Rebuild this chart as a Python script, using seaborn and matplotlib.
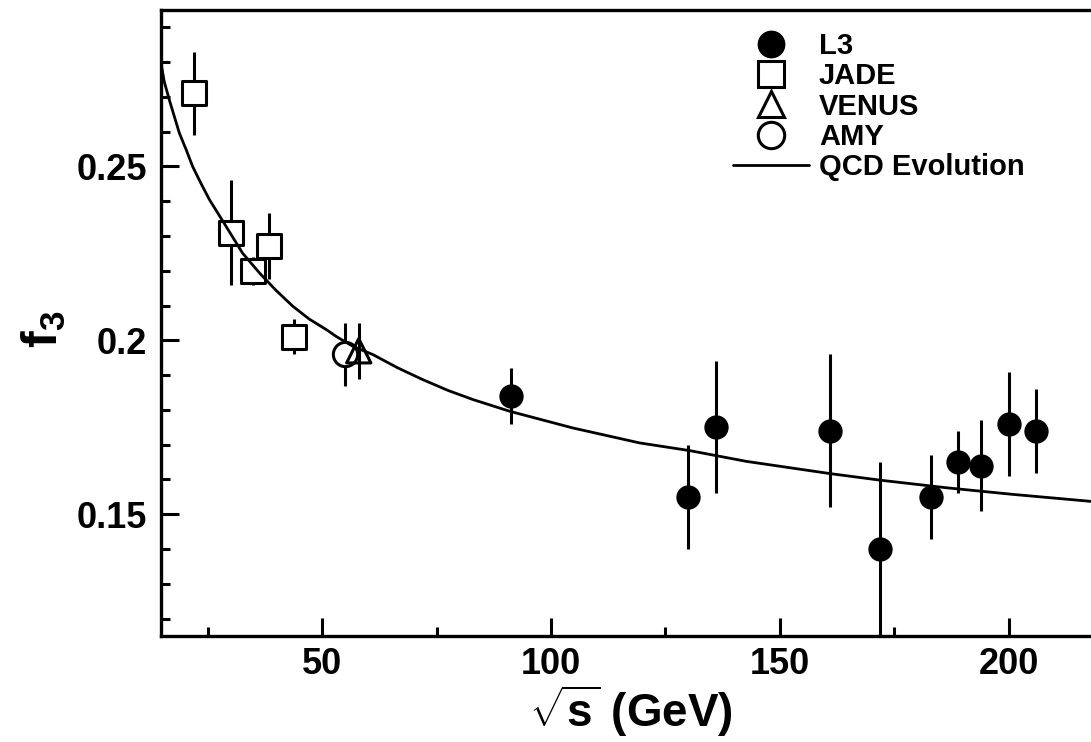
import matplotlib
matplotlib.use('Agg')
import matplotlib.pyplot as plt
import seaborn as sns
from matplotlib.lines import Line2D
from matplotlib.ticker import MultipleLocator

# Data
l3_x = [91.2, 130, 136, 161, 172, 183, 189, 194, 200, 206]
l3_y = [0.184, 0.155, 0.175, 0.174, 0.140, 0.155, 0.165, 0.164, 0.176, 0.174]
l3_err = [0.008, 0.015, 0.019, 0.022, 0.025, 0.012, 0.009, 0.013, 0.015, 0.012]

jade_x = [22, 30, 35, 38.3, 43.8]
jade_y = [0.271, 0.231, 0.220, 0.227, 0.201]
jade_err = [0.012, 0.015, 0.004, 0.0095, 0.005]

venus_x = [58]
venus_y = [0.197]
venus_err = [0.008]

amy_x = [55]
amy_y = [0.196]
amy_err = [0.009]

# QCD evolution curve
qcd_x = [14.8, 15.5, 16.6, 18.8, 20.3, 21.7, 23.5, 25.4, 27.2, 29.0, 32.6,
         36.3, 39.9, 43.6, 47.2, 50.9, 53.1, 56.7, 61.1, 66.5, 72.0, 77.5,
         82.9, 91.0, 104.8, 119.4, 130.3, 142.7, 160.9, 171.9, 186.5, 201.0,
         218.0]
qcd_y = [0.2797, 0.2744, 0.2692, 0.2596, 0.2548, 0.2500, 0.2452, 0.2404,
         0.2366, 0.2328, 0.2251, 0.2194, 0.2144, 0.2098, 0.2061, 0.2031,
         0.2011, 0.1983, 0.1959, 0.1921, 0.1887, 0.1856, 0.1830, 0.1796,
         0.1748, 0.1705, 0.1683, 0.1652, 0.1617, 0.1598, 0.1576, 0.1557,
         0.1537]

sns.set_style('ticks')
plt.rcParams['font.family'] = ['Liberation Sans', 'DejaVu Sans']
plt.rcParams['font.weight'] = 'bold'
plt.rcParams['mathtext.fontset'] = 'custom'
plt.rcParams['mathtext.bf'] = 'Liberation Sans:bold'
plt.rcParams['mathtext.rm'] = 'Liberation Sans:bold'
for key in ['text.color', 'axes.edgecolor', 'axes.labelcolor',
            'xtick.color', 'ytick.color']:
    plt.rcParams[key] = 'black'

fig = plt.figure(figsize=(10.91, 7.42), dpi=100)
ax = fig.add_axes([0.1476, 0.1429, 0.8524, 0.8437])

lw = 2.2
ms = 17.5

# error bars
for xs, ys, es in [(l3_x, l3_y, l3_err), (jade_x, jade_y, jade_err),
                   (venus_x, venus_y, venus_err), (amy_x, amy_y, amy_err)]:
    ax.errorbar(xs, ys, yerr=es, fmt='none', ecolor='black', elinewidth=lw,
                capsize=0, zorder=1)

# markers
sns.scatterplot(x=l3_x, y=l3_y, ax=ax, marker='o', s=ms**2, color='black',
                edgecolor='black', linewidth=0, zorder=2)
sns.scatterplot(x=jade_x, y=jade_y, ax=ax, marker='s', s=ms**2, facecolor='white',
                edgecolor='black', linewidth=lw, zorder=2)
sns.scatterplot(x=amy_x, y=amy_y, ax=ax, marker='o', s=ms**2, facecolor='white',
                edgecolor='black', linewidth=lw, zorder=2)
sns.scatterplot(x=venus_x, y=venus_y, ax=ax, marker='^', s=ms**2, facecolor='none',
                edgecolor='black', linewidth=lw, zorder=2)

# QCD curve
sns.lineplot(x=qcd_x, y=qcd_y, ax=ax, color='black', linewidth=2.0, sort=False,
             estimator=None, zorder=3)

ax.set_xlim(14.8, 218)
ax.set_ylim(0.115, 0.295)

ax.xaxis.set_major_locator(MultipleLocator(50))
ax.xaxis.set_minor_locator(MultipleLocator(25))
ax.yaxis.set_major_locator(MultipleLocator(0.05))
ax.yaxis.set_minor_locator(MultipleLocator(0.01))
ax.set_xticks([50, 100, 150, 200])
ax.set_xticklabels(['50', '100', '150', '200'])
ax.set_yticks([0.15, 0.2, 0.25])
ax.set_yticklabels(['0.15', '0.2', '0.25'])

ax.tick_params(which='major', direction='in', length=13, width=lw,
               labelsize=26, pad=10, colors='black')
ax.tick_params(axis='x', which='major', pad=8)
ax.tick_params(which='minor', direction='in', length=6.5, width=lw, colors='black')
ax.tick_params(top=False, right=False, which='both')

for side in ['left', 'bottom', 'top']:
    ax.spines[side].set_linewidth(2.4)
    ax.spines[side].set_color('black')
ax.spines['right'].set_visible(False)

ax.set_xlabel(r'$\sqrt{\mathbf{s}}$ (GeV)', fontsize=33, fontweight='bold',
              color='black')
ax.xaxis.set_label_coords(0.505, -0.076)
ax.set_ylabel(r'$\mathbf{f}_{\mathbf{3}}$', fontsize=36, fontweight='bold',
              color='black')
ax.yaxis.set_label_coords(-0.10, 0.49)

handles = [
    Line2D([], [], marker='o', ls='none', color='black', ms=19),
    Line2D([], [], marker='s', ls='none', mfc='none', mec='black', mew=lw, ms=19),
    Line2D([], [], marker='^', ls='none', mfc='none', mec='black', mew=lw, ms=19),
    Line2D([], [], marker='o', ls='none', mfc='none', mec='black', mew=lw, ms=19),
    Line2D([], [], color='black', lw=2.0),
]
labels = ['L3', 'JADE', 'VENUS', 'AMY', 'QCD Evolution']
leg = ax.legend(handles, labels, loc='upper left', bbox_to_anchor=(0.615, 0.965),
                frameon=False, borderpad=0, borderaxespad=0,
                handlelength=2.6, handletextpad=0.35, labelspacing=0.08,
                prop={'weight': 'bold', 'size': 21})
for t in leg.get_texts():
    t.set_color('black')

fig.savefig('out.png', dpi=100)
